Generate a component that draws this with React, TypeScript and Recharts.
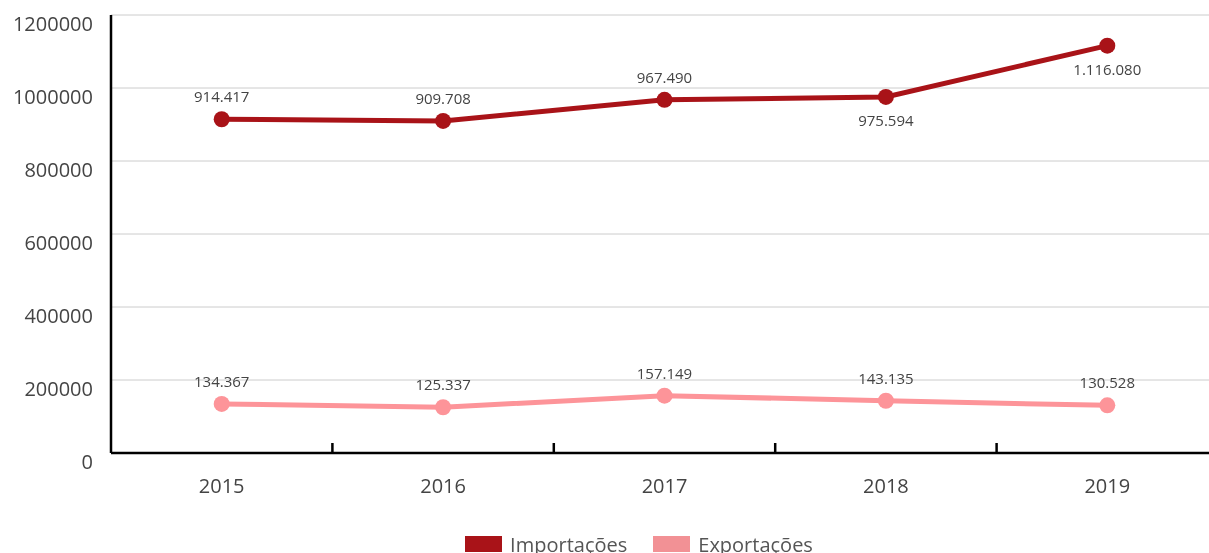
import { LineChart, Line, XAxis, YAxis, CartesianGrid, Legend, LabelList } from 'recharts';

const years = ['2015', '2016', '2017', '2018', '2019'];
const importacoes = [914417, 909708, 967490, 975594, 1116080];
const exportacoes = [134367, 125337, 157149, 143135, 130528];
const yTicks = [0, 200000, 400000, 600000, 800000, 1000000, 1200000];

// which Importações labels sit under the point
const importLabelBelow = [false, false, false, true, true];

const data = years.map((y, i) => ({ ano: y, imp: importacoes[i], exp: exportacoes[i] }));

const W = 1220;
const H = 560;
const margin = { top: 7, right: 10, left: 0, bottom: 13 };
const yAxisWidth = 103;
const band = (W - margin.left - margin.right - yAxisWidth) / years.length;
const font = '"Open Sans", sans-serif';
const textColor = '#444';

const impColor = '#a91318';
const expColor = '#fd9499';
const expLegend = '#f29195';

const fmt = (v: number) => String(v).replace(/\B(?=(\d{3})+(?!\d))/g, '.');

function YTick({ x, y, payload }: any) {
  return (
    <text x={x} y={y + 8} textAnchor="end" dominantBaseline="central" fill={textColor} fontSize={20} fontFamily={font}>
      {payload.value}
    </text>
  );
}

function XTick({ x, y, payload }: any) {
  return (
    <g>
      <line x1={x + band / 2} x2={x + band / 2} y1={y - 10} y2={y} stroke="#000" strokeWidth={2.5} />
      <text x={x} y={y + 32} textAnchor="middle" dominantBaseline="central" fill={textColor} fontSize={20} fontFamily={font}>
        {payload.value}
      </text>
    </g>
  );
}

function makeLabel(below: boolean[] | null) {
  return (props: any) => {
    const { x, y, value, index } = props;
    const down = below ? below[index] : false;
    return (
      <text x={x} y={down ? y + 23 : y - 23} textAnchor="middle" dominantBaseline="central" fill={textColor} fontSize={15} fontFamily={font}>
        {fmt(value)}
      </text>
    );
  };
}

function LegendBox() {
  const items = [
    { name: 'Importações', color: impColor },
    { name: 'Exportações', color: expLegend },
  ];
  return (
    <div style={{ display: 'flex', justifyContent: 'center', alignItems: 'center', height: 22, paddingLeft: 52, fontFamily: font, fontSize: 20, color: '#555' }}>
      {items.map((it, i) => (
        <span key={it.name} style={{ display: 'inline-flex', alignItems: 'center', marginLeft: i ? 26 : 0 }}>
          <span style={{ display: 'inline-block', width: 37, height: 16, background: it.color, marginRight: 8 }} />
          {it.name}
        </span>
      ))}
    </div>
  );
}

export default function App() {
  return (
    <div style={{ position: 'fixed', top: 8, left: 8, width: 1201, height: 545, overflow: 'hidden' }}>
      <LineChart width={W} height={H} data={data} margin={margin}>
        <CartesianGrid vertical={false} stroke="#cccccc" />
        <XAxis
          dataKey="ano"
          scale="band"
          height={80}
          axisLine={{ stroke: '#000', strokeWidth: 2.5 }}
          tickLine={false}
          tickSize={0}
          tickMargin={0}
          tick={<XTick />}
          interval={0}
        />
        <YAxis
          width={yAxisWidth}
          domain={[0, 1200000]}
          ticks={yTicks}
          axisLine={{ stroke: '#000', strokeWidth: 2.5 }}
          tickLine={false}
          tickSize={0}
          tickMargin={18}
          tick={<YTick />}
          interval={0}
        />
        <Line
          name="Importações"
          dataKey="imp"
          stroke={impColor}
          strokeWidth={5}
          dot={{ r: 8, fill: impColor, stroke: 'none' }}
          activeDot={false}
          isAnimationActive={false}
        >
          <LabelList dataKey="imp" content={makeLabel(importLabelBelow)} />
        </Line>
        <Line
          name="Exportações"
          dataKey="exp"
          stroke={expColor}
          strokeWidth={5}
          dot={{ r: 8, fill: expColor, stroke: 'none' }}
          activeDot={false}
          isAnimationActive={false}
        >
          <LabelList dataKey="exp" content={makeLabel(null)} />
        </Line>
        <Legend verticalAlign="bottom" content={<LegendBox />} />
      </LineChart>
    </div>
  );
}
